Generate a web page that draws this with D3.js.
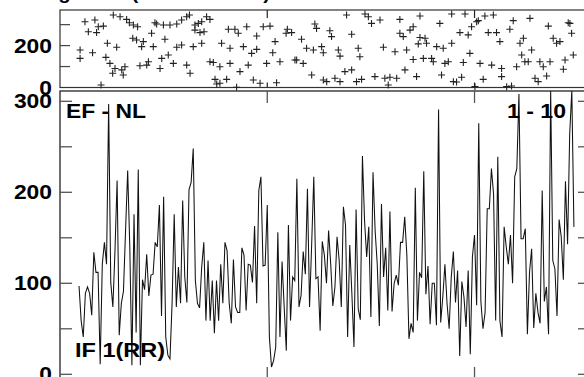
<!DOCTYPE html>
<html><head><meta charset="utf-8">
<script src="https://cdn.jsdelivr.net/npm/d3@7"></script>
<style>
body{margin:0;background:#fff;overflow:hidden}
svg{display:block}
text{font-family:"Liberation Sans",Arial,sans-serif;font-weight:bold;fill:#000}
</style>
</head><body><svg id="c" width="584" height="377"></svg>
<script>
// ---- data ----
const rrStart = 9; // sample index of first value
const rrValues = [
97,59,41,89,96,89,65,134,112,112,
11,121,145,121,297,101,74,136,213,43,
78,91,158,224,140,10,176,46,225,10,
104,93,132,86,109,110,145,140,186,64,
195,41,21,17,78,176,74,118,78,191,
107,79,203,211,248,103,78,73,118,145,
59,125,59,103,45,103,59,121,78,145,
136,78,56,
126,74,68,68,139,131,70,121,120,101,
163,78,202,217,119,120,186,41,8,15,
30,156,41,124,74,26,164,59,107,103,
215,74,87,135,110,204,74,143,217,105,
107,48,146,131,100,158,121,75,96,151,
125,74,184,164,41,142,89,30,181,72,
60,240,169,129,162,63,222,158,121,53,
187,107,139,70,179,69,100,109,98,145,
145,
173,131,39,56,46,205,59,112,106,223,
88,119,55,100,100,54,291,57,85,121,
78,50,107,135,79,114,20,102,85,52,
114,22,129,153,76,276,80,50,68,182,
182,226,198,59,239,59,41,162,140,121,
153,100,217,226,308,149,149,160,44,112,
138,51,89,68,56,202,80,96,44,312,
125,116,64,170,151,104,212,143,264,312,
162];

const phaseX = [11.8,16.5,13.4,18.1,20.5,25.2,28.4,31.5,32.8,34.7,36.7,17.3,9.5,9.5,15.4,22.4,26.8,21.7,23.6,26.0,24.9,29.2,30.7,29.9,19.4,34.4,36.2,39.4,38.6,43.3,44.1,37.8,41.0,41.8,47.3,48.1,51.2,49.6,53.6,55.2,57.5,59.9,61.5,44.9,45.7,48.9,52.0,55.2,57.5,59.9,61.2,63.8,65.4,67.0,63.8,66.2,68.1,69.3,70.9,63.0,67.0,70.9,72.5,75.6,76.4,80.4,80.4,85.1,86.7,89.0,90.6,93.0,93.0,91.4,94.6,102.4,97.7,100.6,101.7,104.0,106.9,107.5,109.5,111.1,111.9,79.6,82.7,84.3,88.3,96.1,99.3,73.3,75.6,78.8,83.5,74.1,
135.5,144.2,145.8,147.3,151.3,160.7,170.2,185.2,191.5,197.0,200.9,204.9,214.3,222.2,230.9,240.3,120.5,121.3,127.6,128.4,137.9,114.2,116.6,119.8,123.7,124.5,131.6,132.4,141.0,141.8,152.9,158.4,163.9,169.4,172.6,173.3,178.1,181.2,185.2,189.1,193.0,194.6,197.8,202.5,206.4,208.0,212.7,217.5,219.1,223.0,218.3,221.4,226.9,228.5,231.7,238.8,238.0,242.7,241.9,233.2,234.8,236.4,241.1,160.7,162.3,165.5,167.0,170.2,179.6,115.0,119.0,124.5,126.1,130.0,132.4,134.7,137.9,140.2,142.6,148.9,153.6,155.2,156.0,159.2,163.1,168.6,167.0,171.8,175.7,176.5,182.0,183.6,190.7,180.4,186.0,189.9,193.8,198.6,204.1,208.8,208.8,215.9,219.8,224.6,226.1,230.1,200.1,196.2,211.2,213.5,187.5];
const phaseY = [314,322,266,290,293,346,338,325,309,298,290,262,179,139,166,211,192,144,115,91,68,84,99,60,12,235,227,219,195,259,195,104,107,123,91,139,155,230,115,192,203,107,68,309,303,298,298,303,322,338,346,298,306,314,274,262,266,338,325,195,211,123,119,99,211,187,115,76,195,107,163,182,246,36,20,23,115,166,219,123,259,278,262,131,131,278,278,259,290,290,293,39,20,39,1,17,
346,351,338,306,322,325,341,351,351,314,341,346,319,330,293,309,303,282,271,243,254,230,187,179,195,166,179,150,187,147,192,171,179,208,235,211,195,187,211,262,251,290,319,262,262,219,278,211,235,179,155,123,123,99,123,131,87,155,259,235,211,219,306,259,243,274,290,239,306,115,60,36,28,44,28,76,84,28,39,52,44,12,49,44,84,52,134,139,139,123,115,123,119,60,28,49,163,115,107,91,52,99,123,44,28,55,39,4,4,7,26];

const mainTicks = [0,50,100,150,200,250,300];
const mainTickLabels = [0,100,200,300];
const topTicks = [100,200,300];
const topTickLabels = [0,200];
const timeTicks = [98,196];
const titleText = "Tachogramm (RR-Intervalle)";
const labelTopLeft = "EF - NL";
const labelTopRight = "1 - 10";
const labelBottomLeft = "IF 1(RR)";

// ---- layout ----
const svg = d3.select("#c");
const L = 60, R = 590;
const x = d3.scaleLinear().domain([0, 250.6]).range([L, R]);
const yMain = d3.scaleLinear().domain([0, 300]).range([374.3, 101.3]);
const yTop = d3.scaleLinear().domain([0, 300]).range([87.5, 24.65]);
const mainTop = 91, mainBot = 379, topTop = 10, topBot = 87.5;
const ink = "#111";

// title (cut off at the top edge; only descenders remain visible)
svg.append("text").attr("x", 0).attr("y", -1.5).attr("font-size", 19)
  .attr("textLength", 270).attr("lengthAdjust", "spacingAndGlyphs")
  .text(titleText);

// ---- top panel ----
const gt = svg.append("g");
gt.append("rect").attr("x", L).attr("y", topTop).attr("width", R - L).attr("height", topBot - topTop)
  .attr("fill", "none").attr("stroke", "#333").attr("stroke-width", 1.2);
gt.selectAll("line.yt").data(topTicks).join("line")
  .attr("x1", L).attr("x2", L + 10).attr("y1", d => yTop(d)).attr("y2", d => yTop(d))
  .attr("stroke", "#444").attr("stroke-width", 1.2);
gt.selectAll("line.xt").data(timeTicks).join("line")
  .attr("x1", d => x(d)).attr("x2", d => x(d)).attr("y1", topTop).attr("y2", topTop + 8)
  .attr("stroke", "#222").attr("stroke-width", 1.2);
gt.selectAll("line.xb").data(timeTicks).join("line")
  .attr("x1", d => x(d)).attr("x2", d => x(d)).attr("y1", topBot - 5).attr("y2", topBot)
  .attr("stroke", "#222").attr("stroke-width", 1.2);
const pts = phaseX.map((d, i) => [d, phaseY[i]]);
gt.selectAll("path.p").data(pts).join("path")
  .attr("transform", d => `translate(${x(d[0])},${yTop(d[1])})`)
  .attr("d", "M-3.5,0H3.5M0,-3.5V3.5")
  .attr("stroke", "#222").attr("stroke-width", 1.1).attr("fill", "none");
gt.selectAll("text.yl").data(topTickLabels).join("text")
  .attr("x", 52).attr("y", d => yTop(d) + 7).attr("text-anchor", "end").attr("font-size", 19.5)
  .attr("textLength", d => String(d).length * 12.7).attr("lengthAdjust", "spacingAndGlyphs")
  .text(d => d);

// ---- main panel ----
const gm = svg.append("g");
svg.append("clipPath").attr("id", "clipMain").append("rect")
  .attr("x", L).attr("y", mainTop).attr("width", R - L).attr("height", mainBot - mainTop);
const line = d3.line().x((d, i) => x(rrStart + i)).y(d => yMain(d));
gm.append("path").datum(rrValues).attr("d", line).attr("clip-path", "url(#clipMain)")
  .attr("fill", "none").attr("stroke", ink).attr("stroke-width", 1.05).attr("stroke-linejoin", "miter");
gm.append("rect").attr("x", L).attr("y", mainTop).attr("width", R - L).attr("height", mainBot - mainTop)
  .attr("fill", "none").attr("stroke", "#222").attr("stroke-width", 1.3);
gm.selectAll("line.yl").data(mainTicks).join("line")
  .attr("x1", L).attr("x2", L + 12).attr("y1", d => yMain(d)).attr("y2", d => yMain(d))
  .attr("stroke", "#555").attr("stroke-width", 1.3);
gm.selectAll("line.yr").data(mainTicks).join("line")
  .attr("x1", R - 12).attr("x2", R).attr("y1", d => yMain(d)).attr("y2", d => yMain(d))
  .attr("stroke", "#555").attr("stroke-width", 1.3);
gm.selectAll("line.xt").data(timeTicks).join("line")
  .attr("x1", d => x(d)).attr("x2", d => x(d)).attr("y1", mainTop).attr("y2", mainTop + 12)
  .attr("stroke", "#555").attr("stroke-width", 1.3);
gm.selectAll("line.xb").data(timeTicks).join("line")
  .attr("x1", d => x(d)).attr("x2", d => x(d)).attr("y1", mainBot - 12).attr("y2", mainBot)
  .attr("stroke", "#555").attr("stroke-width", 1.3);
gm.selectAll("text.yl").data(mainTickLabels).join("text")
  .attr("x", 52).attr("y", d => yMain(d) + 7).attr("text-anchor", "end").attr("font-size", 19.5)
  .attr("textLength", d => String(d).length * 12.7).attr("lengthAdjust", "spacingAndGlyphs")
  .text(d => d);

gm.append("text").attr("x", 66).attr("y", 118).attr("font-size", 21)
  .attr("textLength", 80).attr("lengthAdjust", "spacingAndGlyphs").text(labelTopLeft);
gm.append("text").attr("x", 507).attr("y", 118).attr("font-size", 21)
  .attr("textLength", 59).attr("lengthAdjust", "spacingAndGlyphs").text(labelTopRight);
gm.append("text").attr("x", 75).attr("y", 357).attr("font-size", 21)
  .attr("textLength", 90).attr("lengthAdjust", "spacingAndGlyphs").text(labelBottomLeft);
</script>
</body></html>
